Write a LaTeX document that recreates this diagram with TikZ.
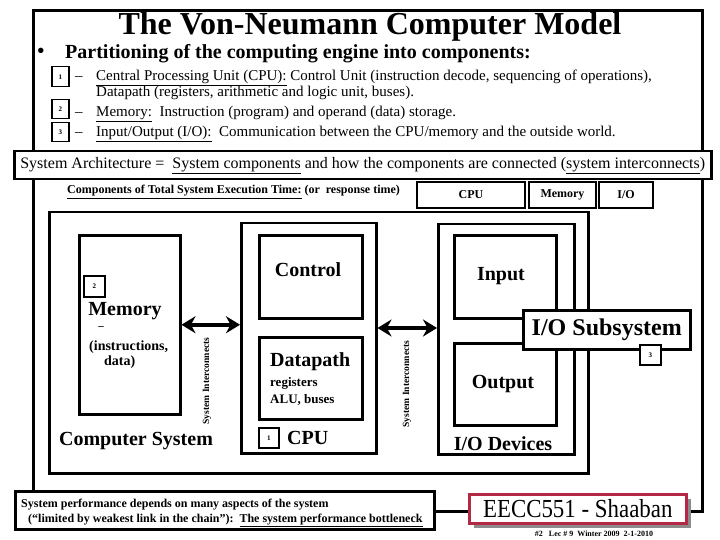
\documentclass[tikz,border=0pt]{standalone}
\usepackage{fontspec}
\setmainfont{Liberation Serif}
\usetikzlibrary{arrows.meta}
\begin{document}
\begin{tikzpicture}[x=1pt,y=-1pt,
  box/.style={draw, line width=2.5pt, fill=white, inner sep=0pt, anchor=north west},
  thinbox/.style={draw, line width=2pt, fill=white, inner sep=0pt, anchor=north west},
  numbox/.style={draw, line width=1.5pt, fill=white, inner sep=0pt, anchor=north west, font=\bfseries\fontsize{7}{8}\selectfont},
  txt/.style={inner sep=0pt, anchor=base west},
  big/.style={inner sep=0pt, font=\bfseries\fontsize{20}{22}\selectfont},
  item/.style={inner sep=0pt, anchor=base west, font=\fontsize{15}{16}\selectfont},
  dbl/.style={line width=3.5pt, {Stealth[length=14pt,width=17pt]}-{Stealth[length=14pt,width=17pt]}},
  vtext/.style={rotate=90, inner sep=0pt, font=\bfseries\fontsize{9.5}{10}\selectfont},
]
\useasboundingbox (0,0) rectangle (720,540);
% outer frame
\node[box, line width=3pt, minimum width=669pt, minimum height=501pt] (frame) at (32,9) {};
% title
\node[inner sep=0pt, font=\bfseries\fontsize{32}{34}\selectfont] (title) at (370,27) {The Von-Neumann Computer Model};
\node[inner sep=0pt, font=\bfseries\fontsize{20}{22}\selectfont] (bullet) at (41,53) {\textbullet};
\node[txt, font=\bfseries\fontsize{20}{22}\selectfont] (part) at (65,59) {Partitioning of the computing engine into components:};
% items
\node[numbox, minimum width=17pt, minimum height=20pt] (n1) at (51,66) {1};
\node[numbox, minimum width=17pt, minimum height=19pt] (n2) at (51,99) {2};
\node[numbox, minimum width=17pt, minimum height=19pt] (n3) at (51,122) {3};
\node[item] (d1) at (75,81) {--};
\node[item] (d2) at (75,117) {--};
\node[item] (d3) at (75,137) {--};
\node[item] (i1) at (96,81) {\underline{Central Processing Unit (CPU):} Control Unit (instruction decode, sequencing of operations),};
\node[item] (i1b) at (96,97) {Datapath (registers, arithmetic and logic unit, buses).};
\node[item] (i2) at (96,117) {\underline{Memory:}\ \ Instruction (program) and operand\ (data) storage.};
\node[item] (i3) at (96,137) {\underline{Input/Output (I/O):}\ \ Communication between the CPU/memory and the outside world.};
% system architecture
\node[box, minimum width=697pt, minimum height=28pt] (sa) at (13,150) {};
\node[inner sep=0pt, font=\fontsize{16}{18}\selectfont] (satext) at (sa.center) {System Architecture =\ \ \underline{System components} and how the components are connected (\underline{system interconnects})};
% components row
\node[txt, font=\bfseries\fontsize{12}{14}\selectfont] (comp) at (67,194) {\underline{Components of Total System Execution Time:} (or\ \ response time)};
\node[thinbox, minimum width=108pt, minimum height=26pt, font=\bfseries\fontsize{12}{14}\selectfont] (ccpu) at (416,181) {CPU};
\node[thinbox, minimum width=67pt, minimum height=26pt, font=\bfseries\fontsize{12}{14}\selectfont] (cmem) at (528,181) {Memory};
\node[thinbox, minimum width=54pt, minimum height=26pt, font=\bfseries\fontsize{12}{14}\selectfont] (cio) at (598,181) {I/O};
% computer system
\node[box, minimum width=539pt, minimum height=261pt] (cs) at (48,211) {};
\node[big] (cstext) at (136,441) {Computer System};
% memory
\node[box, minimum width=101pt, minimum height=179pt] (mem) at (78,234) {};
\node[numbox, minimum width=21pt, minimum height=21pt] (n2b) at (83,275) {2};
\node[big] (memtext) at (125,311) {Memory};
\node[inner sep=0pt, font=\bfseries\fontsize{11}{12}\selectfont] (memdash) at (101,328) {--};
\node[txt, font=\bfseries\fontsize{14}{16}\selectfont] (memi) at (89,350) {(instructions,};
\node[txt, font=\bfseries\fontsize{14}{16}\selectfont] (memd) at (104,365) {data)};
% CPU
\node[box, minimum width=135pt, minimum height=230pt] (cpu) at (240,222) {};
\node[box, minimum width=103pt, minimum height=83pt] (ctrl) at (258,234) {};
\node[big] (ctrltext) at (308,270) {Control};
\node[box, minimum width=103pt, minimum height=82pt] (dp) at (258,336) {};
\node[txt, font=\bfseries\fontsize{20}{22}\selectfont] (dptext) at (270,366) {Datapath};
\node[txt, font=\bfseries\fontsize{13}{15}\selectfont] (dpreg) at (270,386) {registers};
\node[txt, font=\bfseries\fontsize{13}{15}\selectfont] (dpalu) at (270,403) {ALU, buses};
\node[numbox, minimum width=20pt, minimum height=20pt] (n1b) at (258,427) {1};
\node[txt, font=\bfseries\fontsize{20}{22}\selectfont] (cputext) at (287,444) {CPU};
% I/O devices
\node[box, minimum width=136pt, minimum height=230pt] (iod) at (437,223) {};
\node[box, minimum width=102pt, minimum height=83pt] (inp) at (453,234) {};
\node[big] (inptext) at (501,276) {Input};
\node[box, minimum width=102pt, minimum height=82pt] (outp) at (453,342) {};
\node[big] (outtext) at (503,384) {Output};
\node[big] (iodtext) at (503,444) {I/O Devices};
% interconnects
\draw[dbl] (mem.east) -- (mem.east -| cpu.west);
\coordinate (a2) at (375,328);
\draw[dbl] (cpu.east |- a2) -- (iod.west |- a2);
\node[vtext] (si1) at (207,381) {System Interconnects};
\node[vtext] (si2) at (407,384) {System Interconnects};
% I/O subsystem
\node[box, minimum width=167pt, minimum height=39pt, font=\bfseries\fontsize{24}{26}\selectfont] (ios) at (522,309) {I/O Subsystem};
\node[numbox, minimum width=21pt, minimum height=20pt] (n3b) at (639,344) {3};
% bottom
\node[box, minimum width=419pt, minimum height=38pt] (perf) at (14,490) {};
\node[txt, font=\bfseries\fontsize{12}{13}\selectfont] (perf1) at (21,507) {System performance depends on many aspects of the system};
\node[txt, font=\bfseries\fontsize{12}{13}\selectfont] (perf2) at (28,522) {(``limited by weakest link in the chain''):\ \ \underline{The system performance bottleneck}};
\fill[black!45] (474,499) rectangle (691,528);
\node[box, draw={rgb,255:red,180;green,40;blue,70}, minimum width=217pt, minimum height=29pt] (eecc) at (468,493) {\scalebox{0.88}[1]{\fontsize{26}{28}\selectfont EECC551 - Shaaban}};
\node[inner sep=0pt, font=\bfseries\fontsize{8}{9}\selectfont] (foot) at (594,534) {\#2\ \ \ Lec \# 9\ \ Winter 2009\ \ 2-1-2010};
\end{tikzpicture}
\end{document}
